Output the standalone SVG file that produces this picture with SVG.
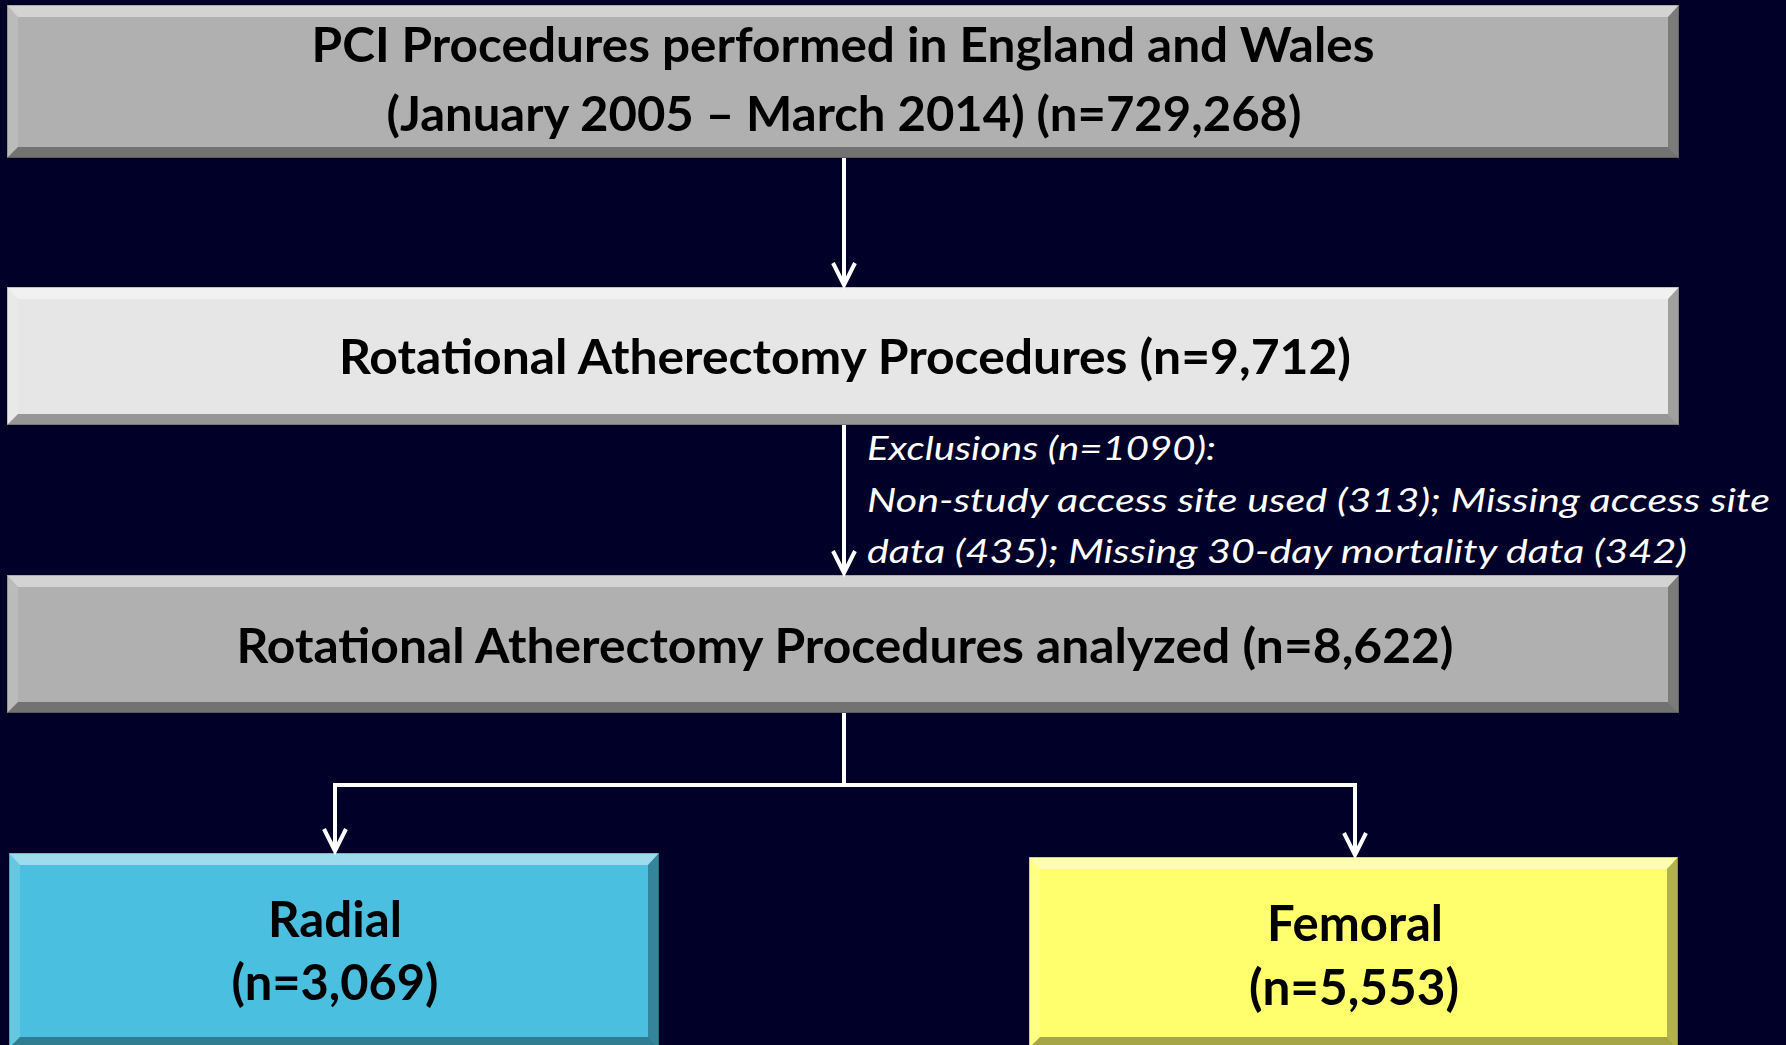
<svg xmlns="http://www.w3.org/2000/svg" width="1786" height="1045" viewBox="0 0 1786 1045">
<style>
.bg{fill:#000028}
.gray{fill:#b0b0b0}
.light{fill:#e6e6e6}
.blue{fill:#4bbfdf}
.yellow{fill:#ffff6e}
.bt{fill:#ffffff;fill-opacity:0.45}
.bl{fill:#ffffff;fill-opacity:0.15}
.br{fill:#000000;fill-opacity:0.3}
.bb{fill:#000000;fill-opacity:0.35}
.edge{fill:none;stroke:#000000;stroke-opacity:0.25;stroke-width:1.5}
.t{font-family:Lato,"Open Sans","Liberation Sans",sans-serif;font-weight:bold;fill:#000000;text-anchor:middle}
.ex{font-family:Lato,"Open Sans","Liberation Sans",sans-serif;font-style:italic;fill:#ffffff;font-size:33px}
.conn{fill:none;stroke:#ffffff;stroke-width:4}
</style>
<defs>
<marker id="arr" markerUnits="userSpaceOnUse" markerWidth="40" markerHeight="40" viewBox="-30 -20 40 40" refX="0" refY="0" orient="auto" overflow="visible">
<path d="M-22,-11 L0,0 L-22,11" fill="none" stroke="#ffffff" stroke-width="4" stroke-linejoin="miter"/>
</marker>
</defs>
<rect class="bg" x="0" y="0" width="1786" height="1045"/>

<g id="node-pci">
<rect class="gray" x="7" y="5" width="1672" height="153"/>
<polygon class="bt" points="7,5 1679,5 1668,17 18,17"/>
<polygon class="bl" points="7,5 18,17 18,147 7,158"/>
<polygon class="br" points="1679,5 1679,158 1668,147 1668,17"/>
<polygon class="bb" points="7,158 18,147 1668,147 1679,158"/>
<rect class="edge" x="7" y="5" width="1672" height="153"/>
<text class="t" x="843" y="62" font-size="48" textLength="1063" lengthAdjust="spacingAndGlyphs">PCI Procedures performed in England and Wales</text>
<text class="t" x="844" y="131" font-size="48" textLength="915" lengthAdjust="spacingAndGlyphs">(January 2005 – March 2014) (n=729,268)</text>
</g>

<g id="node-rota">
<rect class="light" x="7" y="287" width="1672" height="138"/>
<polygon class="bt" points="7,287 1679,287 1668,299 18,299"/>
<polygon class="bl" points="7,287 18,299 18,414 7,425"/>
<polygon class="br" points="1679,287 1679,425 1668,414 1668,299"/>
<polygon class="bb" points="7,425 18,414 1668,414 1679,425"/>
<rect class="edge" x="7" y="287" width="1672" height="138"/>
<text class="t" x="845" y="374" font-size="48" textLength="1012" lengthAdjust="spacingAndGlyphs">Rotational Atherectomy Procedures (n=9,712)</text>
</g>

<g id="node-analyzed">
<rect class="gray" x="7" y="575" width="1672" height="138"/>
<polygon class="bt" points="7,575 1679,575 1668,587 18,587"/>
<polygon class="bl" points="7,575 18,587 18,702 7,713"/>
<polygon class="br" points="1679,575 1679,713 1668,702 1668,587"/>
<polygon class="bb" points="7,713 18,702 1668,702 1679,713"/>
<rect class="edge" x="7" y="575" width="1672" height="138"/>
<text class="t" x="845" y="663" font-size="48" textLength="1217" lengthAdjust="spacingAndGlyphs">Rotational Atherectomy Procedures analyzed (n=8,622)</text>
</g>

<g id="node-radial">
<rect class="blue" x="9" y="853" width="650" height="195"/>
<polygon class="bt" points="9,853 659,853 648,865 20,865"/>
<polygon class="bl" points="9,853 20,865 20,1037 9,1048"/>
<polygon class="br" points="659,853 659,1048 648,1037 648,865"/>
<polygon class="bb" points="9,1048 20,1037 648,1037 659,1048"/>
<rect class="edge" x="9" y="853" width="650" height="195"/>
<text class="t" x="335" y="937" font-size="49" textLength="134" lengthAdjust="spacingAndGlyphs">Radial</text>
<text class="t" x="335" y="1000" font-size="49" textLength="207" lengthAdjust="spacingAndGlyphs">(n=3,069)</text>
</g>

<g id="node-femoral">
<rect class="yellow" x="1029" y="857" width="649" height="191"/>
<polygon class="bt" points="1029,857 1678,857 1667,869 1040,869"/>
<polygon class="bl" points="1029,857 1040,869 1040,1037 1029,1048"/>
<polygon class="br" points="1678,857 1678,1048 1667,1037 1667,869"/>
<polygon class="bb" points="1029,1048 1040,1037 1667,1037 1678,1048"/>
<rect class="edge" x="1029" y="857" width="649" height="191"/>
<text class="t" x="1355" y="941" font-size="49" textLength="176" lengthAdjust="spacingAndGlyphs">Femoral</text>
<text class="t" x="1354" y="1005" font-size="49" textLength="210" lengthAdjust="spacingAndGlyphs">(n=5,553)</text>
</g>

<g id="connectors">
<path class="conn" d="M844,158 L844,285" marker-end="url(#arr)"/>
<path class="conn" d="M844,425 L844,573" marker-end="url(#arr)"/>
<path class="conn" d="M844,713 L844,785 L335,785 L335,851" marker-end="url(#arr)"/>
<path class="conn" d="M844,785 L1355,785 L1355,855" marker-end="url(#arr)"/>
</g>

<g id="label-exclusions">
<text class="ex" x="867" y="460" textLength="349" lengthAdjust="spacingAndGlyphs">Exclusions (n=1090):</text>
<text class="ex" x="867" y="512" textLength="903" lengthAdjust="spacingAndGlyphs">Non-study access site used (313); Missing access site</text>
<text class="ex" x="867" y="563" textLength="820" lengthAdjust="spacingAndGlyphs">data (435); Missing 30-day mortality data (342)</text>
</g>
</svg>
